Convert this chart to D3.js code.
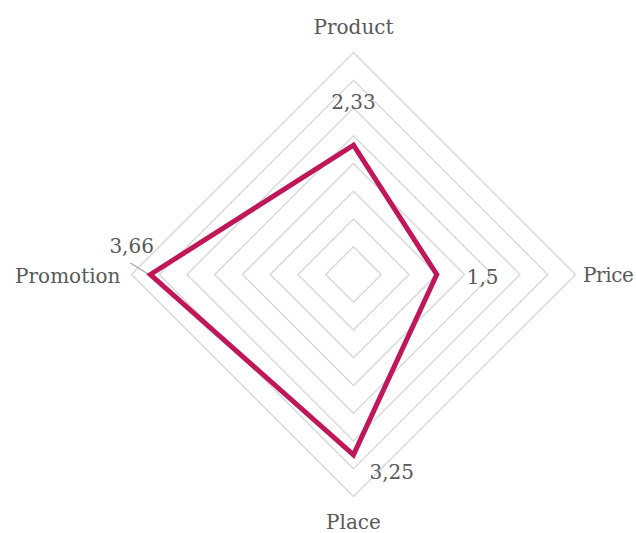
<!DOCTYPE html>
<html>
<head>
<meta charset="utf-8">
<script src="https://cdn.jsdelivr.net/npm/d3@7"></script>
<style>
  html, body { margin: 0; padding: 0; background: #fff; }
  svg { display: block; }
  text { font-family: "DejaVu Serif", serif; fill: #595959; }
</style>
</head>
<body>
<svg id="chart" width="636" height="533"></svg>
<script>
// ---- data ----
const categories = ["Product", "Price", "Place", "Promotion"];
const values = [2.33, 1.5, 3.25, 3.66];
const valueLabels = ["2,33", "1,5", "3,25", "3,66"];
const gridLevels = [0.5, 1, 1.5, 2, 2.5, 3, 3.5, 4];

// ---- layout ----
const width = 636, height = 533;
const cx = 353.5, cy = 274.5;
const maxValue = 4;
const svg = d3.select("#chart");
const g = svg.append("g").attr("transform", `translate(${cx},${cy})`);

const r = d3.scaleLinear().domain([0, maxValue]).range([0, 222]);
const angle = d3.scalePoint().domain(categories).range([0, 2 * Math.PI * (categories.length - 1) / categories.length]);

const radial = d3.lineRadial()
  .angle(d => angle(d.cat))
  .radius(d => r(d.v))
  .curve(d3.curveLinearClosed);

// grid
g.selectAll("path.grid")
  .data(gridLevels)
  .join("path")
  .attr("class", "grid")
  .attr("d", lv => radial(categories.map(c => ({cat: c, v: lv}))))
  .attr("fill", "none")
  .attr("stroke", "#d9d9d9")
  .attr("stroke-width", 1.5);

// helper: cartesian coords
function pos(cat, v) {
  const a = angle(cat);
  return [r(v) * Math.sin(a), -r(v) * Math.cos(a)];
}

// leader line for Promotion label
const promo = pos("Promotion", values[3]);
g.append("line")
  .attr("x1", promo[0] - 20).attr("y1", promo[1] - 11.5)
  .attr("x2", promo[0] - 3).attr("y2", promo[1] - 1)
  .attr("stroke", "#a6a6a6")
  .attr("stroke-width", 1.2);

// series
g.append("path")
  .datum(categories.map((c, i) => ({cat: c, v: values[i]})))
  .attr("d", radial)
  .attr("fill", "none")
  .attr("stroke", "#c0175a")
  .attr("stroke-width", 5)
  .attr("stroke-linejoin", "miter");

// category labels
const catLabelStyle = [
  {dx: 0, dy: -19, anchor: "middle", ls: 0},
  {dx: 58, dy: 7.5, anchor: "end", ls: -0.4},
  {dx: 0, dy: 32, anchor: "middle", ls: 0},
  {dx: -11, dy: 8.5, anchor: "end", ls: 0}
];
g.selectAll("text.cat")
  .data(categories)
  .join("text")
  .attr("class", "cat")
  .attr("x", (c, i) => pos(c, maxValue)[0] + catLabelStyle[i].dx)
  .attr("y", (c, i) => pos(c, maxValue)[1] + catLabelStyle[i].dy)
  .attr("text-anchor", (c, i) => catLabelStyle[i].anchor)
  .attr("letter-spacing", (c, i) => catLabelStyle[i].ls)
  .attr("font-size", 20)
  .text(c => c);

// value labels
const valLabelStyle = [
  {dx: 0, dy: -36, anchor: "middle"},
  {dx: 30, dy: 9.5, anchor: "start"},
  {dx: 16, dy: 24, anchor: "start"},
  {dx: -41, dy: -22, anchor: "start"}
];
g.selectAll("text.val")
  .data(categories)
  .join("text")
  .attr("class", "val")
  .attr("x", (c, i) => pos(c, values[i])[0] + valLabelStyle[i].dx)
  .attr("y", (c, i) => pos(c, values[i])[1] + valLabelStyle[i].dy)
  .attr("text-anchor", (c, i) => valLabelStyle[i].anchor)
  .attr("font-size", 20)
  .text((c, i) => valueLabels[i]);
</script>
</body>
</html>
